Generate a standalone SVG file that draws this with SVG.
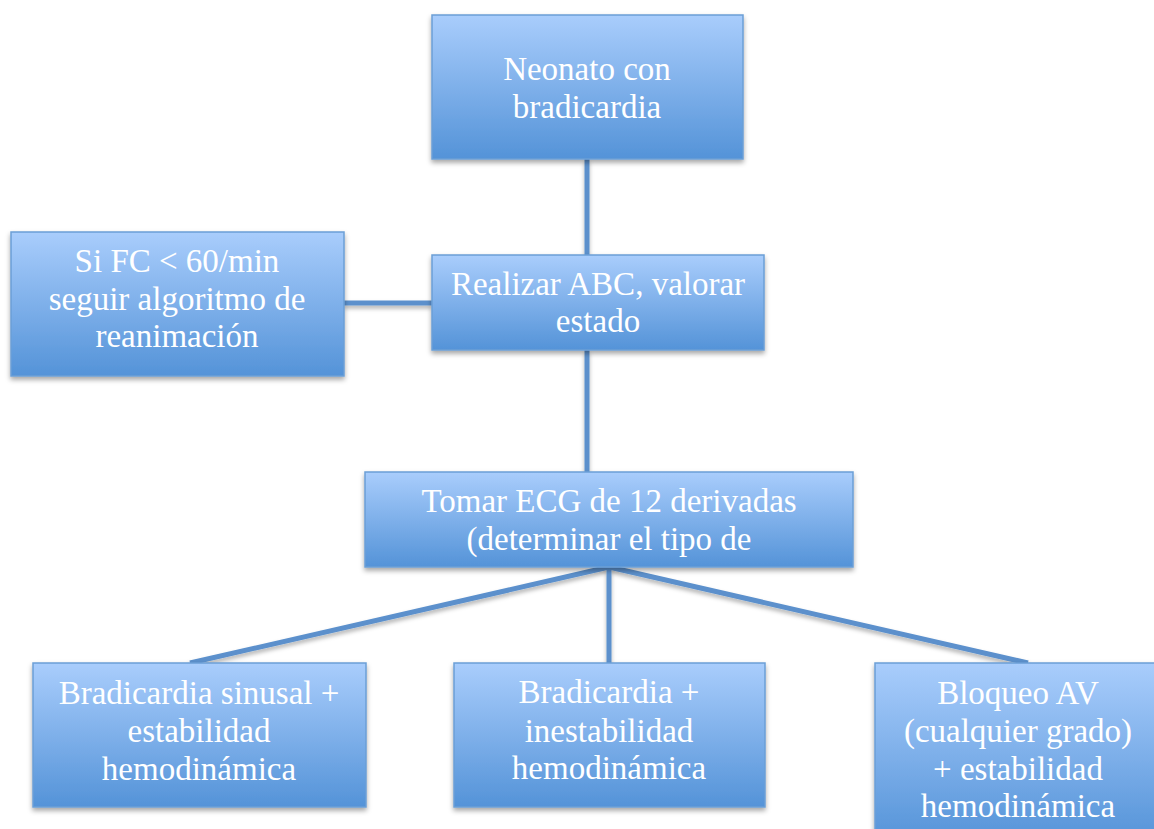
<svg xmlns="http://www.w3.org/2000/svg" width="1154" height="829" viewBox="0 0 1154 829">
<defs>
<linearGradient id="g" x1="0" y1="0" x2="0" y2="1">
<stop offset="0" stop-color="#a9cdfc"/>
<stop offset="1" stop-color="#5493d8"/>
</linearGradient>
<filter id="sh" x="-10%" y="-10%" width="120%" height="125%">
<feDropShadow dx="0" dy="3" stdDeviation="2.5" flood-color="#000" flood-opacity="0.35"/>
</filter>
<filter id="shc" filterUnits="userSpaceOnUse" x="0" y="0" width="1154" height="829">
<feDropShadow dx="0" dy="3" stdDeviation="2" flood-color="#000" flood-opacity="0.3"/>
</filter>
</defs>
<style>
.box{fill:url(#g);stroke:#6b9fd6;stroke-width:1.5;filter:url(#sh)}
.t{font-family:"Liberation Serif","Times New Roman",serif;font-size:33px;fill:#ffffff;text-anchor:middle}
.c{stroke:#5b90cc;stroke-width:5;fill:none}
</style>
<rect width="1154" height="829" fill="#ffffff"/>
<g id="connectors" filter="url(#shc)">
<line class="c" x1="587" y1="159" x2="587" y2="256"/>
<line class="c" x1="344" y1="303" x2="432" y2="303"/>
<line class="c" x1="587" y1="350" x2="587" y2="472"/>
<line class="c" x1="609" y1="567" x2="190" y2="663"/>
<line class="c" x1="609" y1="567" x2="609" y2="663"/>
<line class="c" x1="609" y1="567" x2="1028" y2="663"/>
</g>
<g id="n1">
<rect class="box" x="432" y="15" width="311" height="144"/>
<text class="t" x="587" y="80">Neonato con</text>
<text class="t" x="587" y="118">bradicardia</text>
</g>
<g id="n2">
<rect class="box" x="11" y="232" width="333" height="144"/>
<text class="t" x="177" y="272">Si FC &lt; 60/min</text>
<text class="t" x="177" y="310">seguir algoritmo de</text>
<text class="t" x="177" y="347">reanimación</text>
</g>
<g id="n3">
<rect class="box" x="432" y="255" width="332" height="95"/>
<text class="t" x="598" y="295">Realizar ABC, valorar</text>
<text class="t" x="598" y="332">estado</text>
</g>
<g id="n4">
<rect class="box" x="365" y="472" width="488" height="95"/>
<text class="t" x="609" y="512">Tomar ECG de 12 derivadas</text>
<text class="t" x="609" y="550">(determinar el tipo de</text>
</g>
<g id="n5">
<rect class="box" x="33" y="663" width="333" height="144"/>
<text class="t" x="199" y="704">Bradicardia sinusal +</text>
<text class="t" x="199" y="742">estabilidad</text>
<text class="t" x="199" y="780">hemodinámica</text>
</g>
<g id="n6">
<rect class="box" x="454" y="663" width="311" height="144"/>
<text class="t" x="609" y="703">Bradicardia +</text>
<text class="t" x="609" y="742">inestabilidad</text>
<text class="t" x="609" y="779">hemodinámica</text>
</g>
<g id="n7">
<rect class="box" x="875" y="663" width="290" height="180"/>
<text class="t" x="1018" y="704">Bloqueo AV</text>
<text class="t" x="1018" y="742">(cualquier grado)</text>
<text class="t" x="1018" y="780">+ estabilidad</text>
<text class="t" x="1018" y="817">hemodinámica</text>
</g>
</svg>
